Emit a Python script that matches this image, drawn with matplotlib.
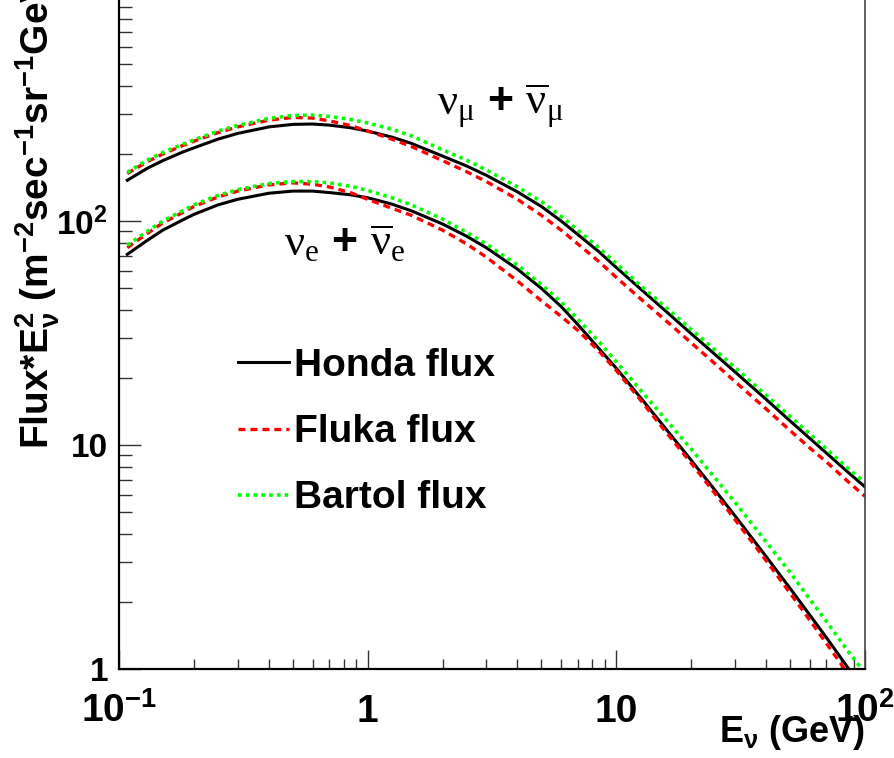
#! /usr/bin/env python3

import matplotlib
matplotlib.use("Agg")
import matplotlib.pyplot as plt
from matplotlib.ticker import FixedLocator, NullFormatter

plt.rcParams['font.family'] = ['Liberation Sans', 'DejaVu Sans']
plt.rcParams['font.weight'] = 'bold'
plt.rcParams['axes.labelweight'] = 'bold'
plt.rcParams['mathtext.fontset'] = 'custom'
plt.rcParams['mathtext.rm'] = 'Liberation Sans:bold'
plt.rcParams['mathtext.it'] = 'Liberation Sans:bold'
plt.rcParams['mathtext.bf'] = 'Liberation Sans:bold'
plt.rcParams['mathtext.sf'] = 'Liberation Serif:weight=normal'
plt.rcParams['lines.scale_dashes'] = False

# neutrino energy (GeV)
energy = [0.108, 0.13, 0.15, 0.18, 0.2, 0.25, 0.3, 0.4, 0.5, 0.6, 0.7, 0.85, 1,
          1.25, 1.5, 2, 2.5, 3, 4, 5, 6, 7, 8.5, 10, 12.5, 15, 20, 25, 30, 40,
          50, 60, 70, 85, 100]

# flux * E^2, nu_mu + anti-nu_mu
honda_mu = [152, 172, 186, 203, 212, 232, 246, 263, 270, 271, 268, 261, 252,
            237, 222, 195, 176, 160, 135, 116, 100, 87, 73, 62, 49.8, 41.7,
            31.4, 25.3, 21.2, 16.0, 12.8, 10.7, 9.2, 7.6, 6.5]
fluka_mu = [163, 184, 199, 217, 227, 248, 263, 282, 290, 288, 280, 267, 252,
            232, 215, 186, 166, 150, 125, 106, 91, 79, 66, 56, 45, 37.8,
            28.6, 23, 19.2, 14.5, 11.6, 9.7, 8.4, 6.9, 5.9]
bartol_mu = [165, 187, 202, 220, 230, 252, 267, 287, 296, 297, 293, 284, 274,
             257, 240, 208, 187, 169, 142, 122, 105, 91, 76, 64.5, 51.5, 43.3,
             32.8, 26.5, 22.2, 16.7, 13.4, 11.2, 9.6, 7.9, 6.8]

# flux * E^2, nu_e + anti-nu_e
honda_e = [71, 82, 91, 101, 107, 118, 125, 133, 136, 136, 134, 131, 127,
           119, 111, 97, 85.5, 76, 61, 50, 41.5, 34.5, 27, 22, 16.3, 12.7,
           8.55, 6.26, 4.83, 3.18, 2.29, 1.74, 1.38, 1.02, 0.8]
fluka_e = [76, 88, 98, 109, 116, 128, 136, 145, 148, 146, 142, 134, 125,
           114, 106, 91, 79, 69, 54, 44, 37.5, 32.5, 26.3, 21.5, 15.9, 12.3,
           8.3, 6.05, 4.65, 3.05, 2.18, 1.65, 1.3, 0.96, 0.75]
bartol_e = [78, 90, 100, 111, 118, 130, 138, 147, 150, 150, 148, 143, 137,
            127, 118, 102, 89, 79, 63.5, 52, 43.5, 36.5, 29, 23.5, 17.6, 13.9,
            9.6, 7.1, 5.55, 3.7, 2.7, 2.05, 1.63, 1.21, 0.96]

fig = plt.figure(figsize=(8.94, 7.58), dpi=100)
ax = fig.add_axes([119/894, 89/758, 746/894, 672/758])

ax.plot(energy, honda_mu, color='black', lw=2.2, label='Honda flux')
ax.plot(energy, honda_e, color='black', lw=2.2)
ax.plot(energy, fluka_mu, color='red', lw=2.4, dashes=[5, 3.6], label='Fluka flux')
ax.plot(energy, fluka_e, color='red', lw=2.4, dashes=[5, 3.6])
ax.plot(energy, bartol_mu, color='#00ff00', lw=2.6, dashes=[2.6, 3.0], label='Bartol flux')
ax.plot(energy, bartol_e, color='#00ff00', lw=2.6, dashes=[2.6, 3.0])

ax.set_xscale('log')
ax.set_yscale('log')
ax.set_xlim(0.1, 100)
ax.set_ylim(1, 1000)

ax.xaxis.set_major_locator(FixedLocator([0.1, 1, 10, 100]))
ax.set_xticklabels([r'$10^{-1}$', '1', '10', r'$10^{2}$'])
ax.yaxis.set_major_locator(FixedLocator([1, 10, 100]))
ax.set_yticklabels(['1', '10', r'$10^{2}$'])
xminor = [m * 10.0**d for d in range(-1, 2) for m in range(2, 10)]
yminor = [m * 10.0**d for d in range(0, 3) for m in range(2, 10)]
ax.xaxis.set_minor_locator(FixedLocator(xminor))
ax.yaxis.set_minor_locator(FixedLocator(yminor))
ax.xaxis.set_minor_formatter(NullFormatter())
ax.yaxis.set_minor_formatter(NullFormatter())

ax.tick_params(axis='both', which='both', direction='in', width=1.0, color='#333333')
ax.tick_params(axis='x', which='major', length=14, labelsize=28, pad=38)
ax.tick_params(axis='x', which='minor', length=7)
ax.tick_params(axis='y', which='major', length=16, labelsize=24, pad=8)
ax.tick_params(axis='y', which='minor', length=9)
plt.setp(ax.get_xticklabels(), va='baseline')

for side in ['left', 'bottom']:
    ax.spines[side].set_linewidth(1.6)
ax.spines['right'].set_linewidth(1.2)
ax.spines['right'].set_color('#444444')
ax.spines['top'].set_visible(False)

ax.set_xlabel(r'E$_{\nu}$ (GeV)', fontsize=26, ha='right', va='baseline')
ax.xaxis.set_label_coords(1.0, -0.109)
ax.set_ylabel(r'Flux*E$_{\nu}^{2}$ (m$^{-2}$sec$^{-1}$sr$^{-1}$GeV)', fontsize=28,
              ha='right', va='bottom')
ax.yaxis.set_label_coords(-0.077, 1.05)

ax.text(1.9, 297, r'$\mathsf{\nu_{\mu}}$ + $\mathsf{\overline{\nu}_{\mu}}$', fontsize=32,
        ha='left', va='baseline')
ax.text(0.46, 70.5, r'$\mathsf{\nu_{e}}$ + $\mathsf{\overline{\nu}_{e}}$', fontsize=32,
        ha='left', va='baseline')

ax.legend(loc='upper left', bbox_to_anchor=(0.1595, 0.478), frameon=False, fontsize=28,
          handlelength=1.3, handletextpad=0.15, labelspacing=0.78, borderpad=0,
          borderaxespad=0)

plt.savefig('out.png', dpi=100)
